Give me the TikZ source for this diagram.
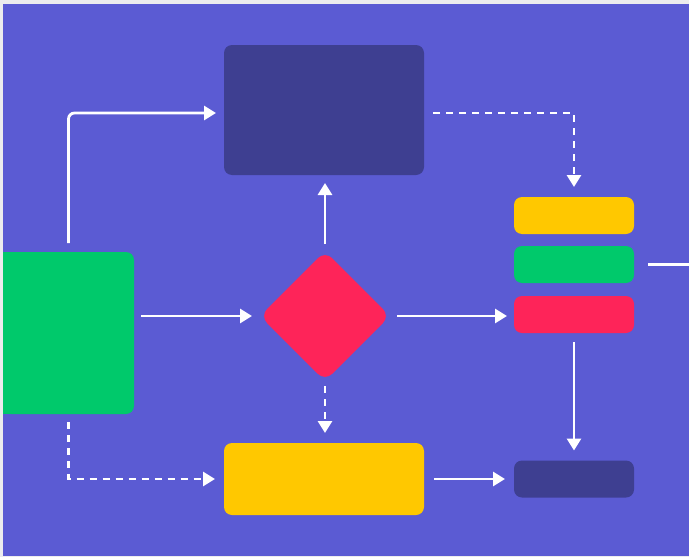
\documentclass[tikz,border=0pt]{standalone}
\usetikzlibrary{arrows.meta,shapes.geometric}
\definecolor{bgp}{HTML}{5B5BD3}
\definecolor{dkb}{HTML}{3E3F91}
\definecolor{grn}{HTML}{00C96B}
\definecolor{rdd}{HTML}{FE2459}
\definecolor{ylw}{HTML}{FFC800}
\definecolor{edge}{HTML}{ECECEE}
\begin{document}
\begin{tikzpicture}[x=1pt,y=-1pt,
  box/.style={draw=none,rounded corners=8pt,inner sep=0pt,outer sep=0pt},
  arr/.style={draw=white,line width=2.8pt,-{Triangle[length=12pt,width=14pt]}},
  dsh/.style={arr,dash pattern=on 7pt off 6pt},
  plain/.style={draw=white,line width=2.8pt}]
\useasboundingbox (0,0) rectangle (689,557);
\fill[edge] (0,0) rectangle (689,557);
\fill[bgp] (3,4) rectangle (689,556);
% nodes
\node[box,fill=dkb,minimum width=200pt,minimum height=130pt] (top) at (324,110) {};
\node[box,fill=grn,minimum width=131pt,minimum height=162pt] (g) at (68.5,333) {};
\fill[grn] (g.north west) rectangle ([xshift=12pt]g.south west);
\node[diamond,fill=rdd,rounded corners=10pt,inner sep=0pt,outer sep=0pt,minimum width=130pt,minimum height=130pt] (d) at (325,316) {};
\node[box,fill=ylw,minimum width=200pt,minimum height=72pt] (by) at (324,479) {};
\node[box,fill=ylw,minimum width=120pt,minimum height=37pt] (ry) at (574,215.5) {};
\node[box,fill=grn,minimum width=120pt,minimum height=37pt] (rg) at (574,264.5) {};
\node[box,fill=rdd,minimum width=120pt,minimum height=37pt] (rr) at (574,314.5) {};
\node[box,fill=dkb,minimum width=120pt,minimum height=37pt] (dk) at (574,479) {};
\coordinate (out) at (689,264.5);
% connectors
\draw[arr,rounded corners=6pt] ([yshift=9pt]g.north) |- ([xshift=-8pt]top.west |- 0,113);
\draw[arr] ([xshift=7pt]g.east |- d.west) -- ([xshift=-8pt]d.west);
\draw[arr] ([yshift=7pt]d.north) -- ([yshift=-8pt]top.south -| d.north);
\draw[arr] ([xshift=7pt]d.east) -- ([xshift=-7pt]rr.west |- d.east);
\draw[dsh] ([yshift=-5pt]d.south) -- ([yshift=10pt]by.north -| d.south);
\draw[dsh] ([xshift=9pt]top.east |- 0,113) -| ([yshift=10pt]ry.north);
\draw[dsh] ([yshift=-8pt]g.south) |- ([xshift=-9pt]by.west);
\draw[arr] ([xshift=10pt]by.east) -- ([xshift=-9pt]dk.west);
\draw[arr] ([yshift=-9pt]rr.south) -- ([yshift=10pt]dk.north);
\draw[plain] ([xshift=14pt]rg.east) -- (out);
\end{tikzpicture}
\end{document}
